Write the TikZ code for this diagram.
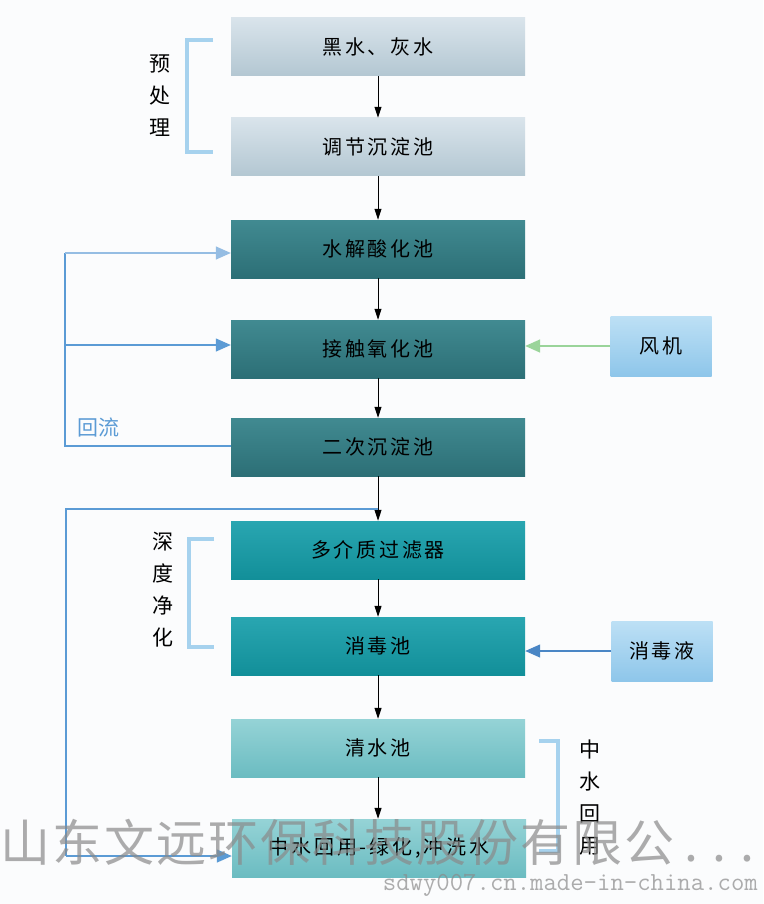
\documentclass[tikz,border=0pt]{standalone}
\usepackage{fontspec}
\newfontfamily\cjk[LetterSpace=14]{Noto Sans CJK SC}
\newfontfamily\cjkw{Noto Sans CJK SC}
\newfontfamily\cjkwm[LetterSpace=4]{Noto Sans CJK SC}
\usetikzlibrary{arrows.meta}
\definecolor{bgc}{HTML}{FBFCFD}
\definecolor{brk}{HTML}{A6D2EE}
\definecolor{flow}{HTML}{5B9BD5}
\definecolor{flowlt}{HTML}{95BDE3}
\definecolor{flowdk}{HTML}{4A86C5}
\definecolor{air}{HTML}{9AD49A}
\definecolor{gT}{HTML}{D9E4EB}\definecolor{gB}{HTML}{B3C7D2}
\definecolor{dT}{HTML}{418A91}\definecolor{dB}{HTML}{2C6F76}
\definecolor{tT}{HTML}{29A6B1}\definecolor{tB}{HTML}{128F99}
\definecolor{lT}{HTML}{95D3D6}\definecolor{lB}{HTML}{6BBCC1}
\definecolor{sT}{HTML}{BDE0F5}\definecolor{sB}{HTML}{8EC6EA}
\definecolor{wm}{HTML}{8A8A8A}
\tikzset{
  box/.style={minimum width=294pt,minimum height=58pt,inner sep=0pt,font=\cjk\fontsize{20}{20}\selectfont,text=black},
  greybox/.style={box,top color=gT,bottom color=gB},
  darkbox/.style={box,top color=dT,bottom color=dB},
  tealbox/.style={box,top color=tT,bottom color=tB},
  lightbox/.style={box,top color=lT,bottom color=lB},
  sidebox/.style={minimum width=101pt,minimum height=60pt,inner sep=0pt,font=\cjk\fontsize{20}{20}\selectfont,top color=sT,bottom color=sB},
  down/.style={draw=black,line width=1pt,-{Triangle[length=11pt,width=7pt]}},
  bracket/.style={draw=brk,line width=4.5pt},
  vlabel/.style={font=\cjkw\fontsize{21}{32}\selectfont,align=center,inner sep=0pt},
  flowline/.style={draw=flow,line width=1.3pt},
  flowarrow/.style={flowline,-{Triangle[length=15pt,width=13pt]}},
}
\begin{document}
\begin{tikzpicture}[x=1pt,y=-1pt]
\fill[bgc] (0,0) rectangle (763,904);
\useasboundingbox (0,0) rectangle (763,904);
% main column
\node[greybox]  (b1) at (378,47)  {黑水、灰水};
\node[greybox]  (b2) at (378,147) {调节沉淀池};
\node[darkbox]  (b3) at (378,249) {水解酸化池};
\node[darkbox]  (b4) at (378,349) {接触氧化池};
\node[darkbox]  (b5) at (378,447) {二次沉淀池};
\node[tealbox]  (b6) at (378,550) {多介质过滤器};
\node[tealbox]  (b7) at (378,646) {消毒池};
\node[lightbox] (b8) at (378,748) {清水池};
\node[lightbox] (b9) at (379,848) {中水回用-绿化,冲洗水};
% side boxes
\node[sidebox] (fan) at (661,346) {风机};
\node[sidebox] (dis) at (662,651) {消毒液};
% down arrows
\draw[down] (b1) -- (b2);
\draw[down] (b2) -- (b3);
\draw[down] (b3) -- (b4);
\draw[down] (b4) -- (b5);
\draw[down] (b5) -- (b6);
\draw[down] (b6) -- (b7);
\draw[down] (b7) -- (b8);
\draw[down] (b8) -- (b9.north -| b8.south);
% side inputs
\draw[draw=air,line width=1.6pt,-{Triangle[length=15pt,width=13pt]}] (fan.west) -- (b4.east |- fan.west);
\draw[draw=flowdk,line width=1.3pt,-{Triangle[length=15pt,width=13pt]}] (dis.west) -- (b7.east |- dis.west);
% recirculation 1
\coordinate (r1) at (65,446);
\coordinate (r2) at (65,253);
\coordinate (r3) at (65,345);
\draw[flowline] (b5.west |- r1) -- (r1) -- (r2);
\draw[flowline,-{Triangle[length=15pt,width=13pt]},flowlt] (r2) -- (b3.west |- r2);
\draw[flowarrow] (r3) -- (b4.west |- r3);
\node[font=\cjkw\fontsize{21}{21}\selectfont,text=flow,anchor=west,inner sep=0pt] (hl) at (77,428) {回流};
% recirculation 2
\coordinate (s1) at (378,509);
\coordinate (s2) at (66,509);
\coordinate (s3) at (66,856);
\draw[flowline] (s1) -- (s2) -- (s3);
\draw[flowarrow] (s3) -- (b9.west |- s3);
% brackets
\draw[bracket] (213,40) -- (187,40) -- (187,152) -- (213,152);
\node[vlabel] (l1) at (160,96) {预\\处\\理};
\draw[bracket] (214,539) -- (189,539) -- (189,647) -- (214,647);
\node[vlabel] (l2) at (163,590) {深\\度\\净\\化};
\draw[bracket] (539,741) -- (558,741) -- (558,851) -- (539,851);
\node[vlabel] (l3) at (590,798) {中\\水\\回\\用};
% watermark
\node[font=\cjkwm\fontsize{50}{50}\selectfont,text=wm,opacity=0.7,anchor=west,inner sep=0pt] (wm1) at (0,842) {山东文远环保科技股份有限公\hspace{10pt}.\hspace{14pt}.\hspace{14pt}.};
\node[font=\ttfamily\fontsize{26}{26}\selectfont,text=wm,opacity=0.7,anchor=east,inner sep=0pt] (wm2) at (758,885) {sdwy007.cn.made-in-china.com};
\end{tikzpicture}
\end{document}
